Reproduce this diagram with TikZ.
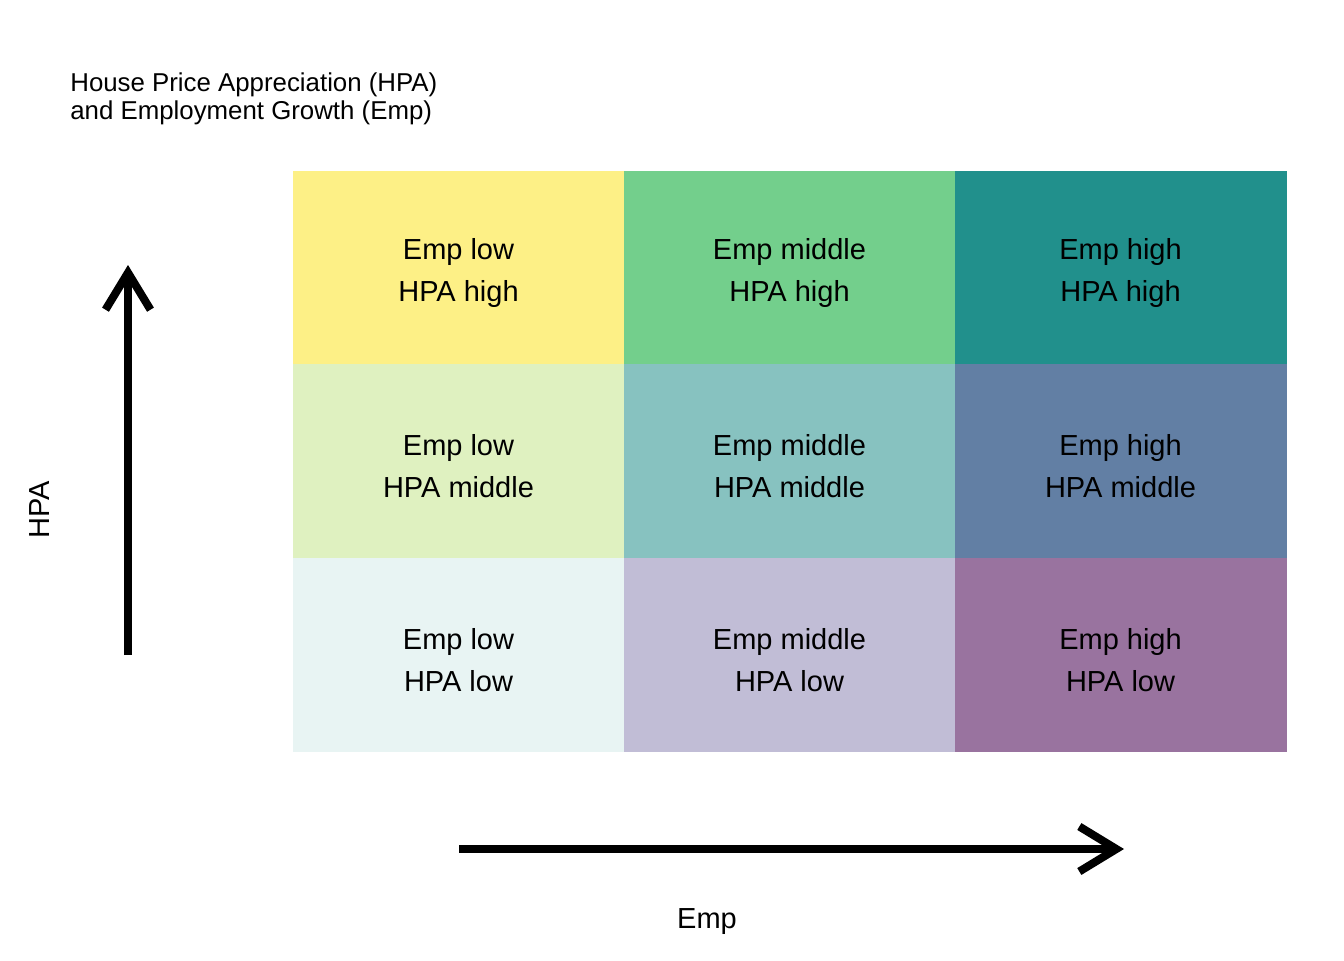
\documentclass[tikz,border=0pt]{standalone}
\usepackage{fontspec}
\setmainfont{Liberation Sans}
\usetikzlibrary{arrows.meta,positioning}
\definecolor{lowHigh}{HTML}{FDF086}
\definecolor{midHigh}{HTML}{73CF8C}
\definecolor{highHigh}{HTML}{21908C}
\definecolor{lowMid}{HTML}{DFF1C0}
\definecolor{midMid}{HTML}{87C2C0}
\definecolor{highMid}{HTML}{627FA4}
\definecolor{lowLow}{HTML}{E8F4F3}
\definecolor{midLow}{HTML}{C1BDD6}
\definecolor{highLow}{HTML}{99739F}
\tikzset{
    cell/.style={minimum width=6.62cm, minimum height=3.87cm, inner sep=0pt, line width=0.4pt},
    celltext/.style={align=center, inner sep=0pt, font=\fontsize{16.5}{23.8}\selectfont},
    axis/.style={line width=0.16cm, -{Straight Barb[length=0.74cm, width=0.9cm]}},
    label/.style={font=\fontsize{16.5}{20}\selectfont, inner sep=0pt}
}

\begin{document}
\begin{tikzpicture}[x=0.02cm, y=-0.02cm]
    \useasboundingbox (0,0) rectangle (1344,960);
    % title
    \node[anchor=north west, inner sep=0pt, align=left, font=\fontsize{14.7}{15.9}\selectfont] (title) at (70,72)
        {House Price Appreciation (HPA)\\and Employment Growth (Emp)};

    % grid of cells
    \foreach \col/\emp [count=\i] in {low/low, mid/middle, high/high}
        \foreach \row/\hpa [count=\j] in {High/high, Mid/middle, Low/low} {
            \node[cell, fill=\col\row, draw=\col\row] (cell-\j-\i) at ({293+331*(\i-0.5)}, {171+193.5*(\j-0.5)}) {};
            \node[celltext] (text-\j-\i) at ([yshift=-0.1cm]cell-\j-\i.center) {Emp \emp\\HPA \hpa};
        }

    % axes
    \coordinate (hpa start) at (128,655);
    \coordinate (hpa end) at (128,265);
    \coordinate (emp start) at (459,849);
    \coordinate (emp end) at (1124,849);
    \draw[axis] (hpa start) -- (hpa end);
    \draw[axis] (emp start) -- (emp end);

    \node[label, rotate=90] (hpa) at (40,510) {HPA};
    \node[label] (emp) at (707,922) {Emp};
\end{tikzpicture}
\end{document}
